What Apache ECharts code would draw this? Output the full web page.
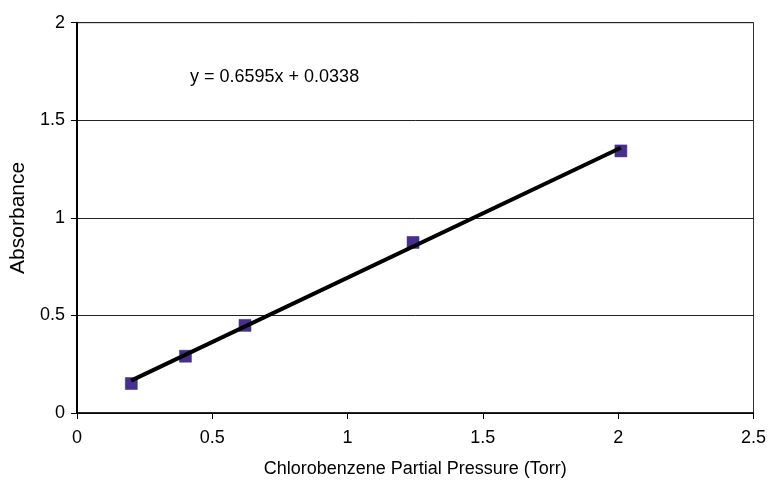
<!DOCTYPE html>
<html><head><meta charset="utf-8">
<script src="https://cdn.jsdelivr.net/npm/echarts@6/dist/echarts.min.js"></script>
<style>html,body{margin:0;padding:0;background:#fff}#c{width:772px;height:483px}</style>
</head><body><div id="c"></div>
<script>
const pressure = [0.201, 0.401, 0.621, 1.242, 2.010];
const absorbance = [0.151, 0.291, 0.449, 0.874, 1.343];
const trendX = [0.2, 2.01];
const trendY = [0.166, 1.359];
const equationText = 'y = 0.6595x + 0.0338';
const xTicks = [0, 0.5, 1, 1.5, 2, 2.5];
const yTicks = [0, 0.5, 1, 1.5, 2];

const font = '"Liberation Sans", Arial, sans-serif';
const chart = echarts.init(document.getElementById('c'));
chart.setOption({
  animation: false,
  grid: { left: 75.5, right: 18.5, top: 22.7, bottom: 69.5, show: true, borderColor: '#333', borderWidth: 1 },
  xAxis: {
    type: 'value', min: 0, max: 2.5, interval: 0.5,
    name: 'Chlorobenzene Partial Pressure (Torr)', nameLocation: 'middle', nameGap: 47,
    nameTextStyle: { fontFamily: font, fontSize: 18, color: '#000' },
    axisLine: { show: true, onZero: false, lineStyle: { color: '#000', width: 1.5 } },
    axisTick: { show: true, inside: false, length: 6, lineStyle: { color: '#000' } },
    axisLabel: { fontFamily: font, fontSize: 18, color: '#000', margin: 16,
      formatter: v => (xTicks.indexOf(v) >= 0 ? String(v) : '') },
    splitLine: { show: false }
  },
  yAxis: {
    type: 'value', min: 0, max: 2, interval: 0.5,
    name: 'Absorbance', nameLocation: 'middle', nameGap: 47, nameRotate: 90,
    nameTextStyle: { fontFamily: font, fontSize: 21, color: '#000' },
    axisLine: { show: true, onZero: false, lineStyle: { color: '#000', width: 2 } },
    axisTick: { show: true, inside: false, length: 6, lineStyle: { color: '#000' } },
    axisLabel: { fontFamily: font, fontSize: 18, color: '#000', margin: 12,
      formatter: v => (yTicks.indexOf(v) >= 0 ? String(v) : '') },
    splitLine: { show: true, lineStyle: { color: '#222', width: 1 } }
  },
  series: [
    {
      type: 'scatter', symbol: 'rect', symbolSize: 12,
      itemStyle: { color: '#482e8e', opacity: 1, borderColor: '#3c2a80', borderWidth: 0.5 },
      data: pressure.map((x, i) => [x, absorbance[i]]), z: 2
    },
    {
      type: 'line', symbol: 'none', lineStyle: { color: '#000', width: 4 },
      data: trendX.map((x, i) => [x, trendY[i]]), z: 3
    }
  ],
  graphic: [{
    type: 'text', left: 190, top: 68,
    style: { text: equationText, fontFamily: font, fontSize: 18, fill: '#000' }
  }]
});
</script></body></html>
